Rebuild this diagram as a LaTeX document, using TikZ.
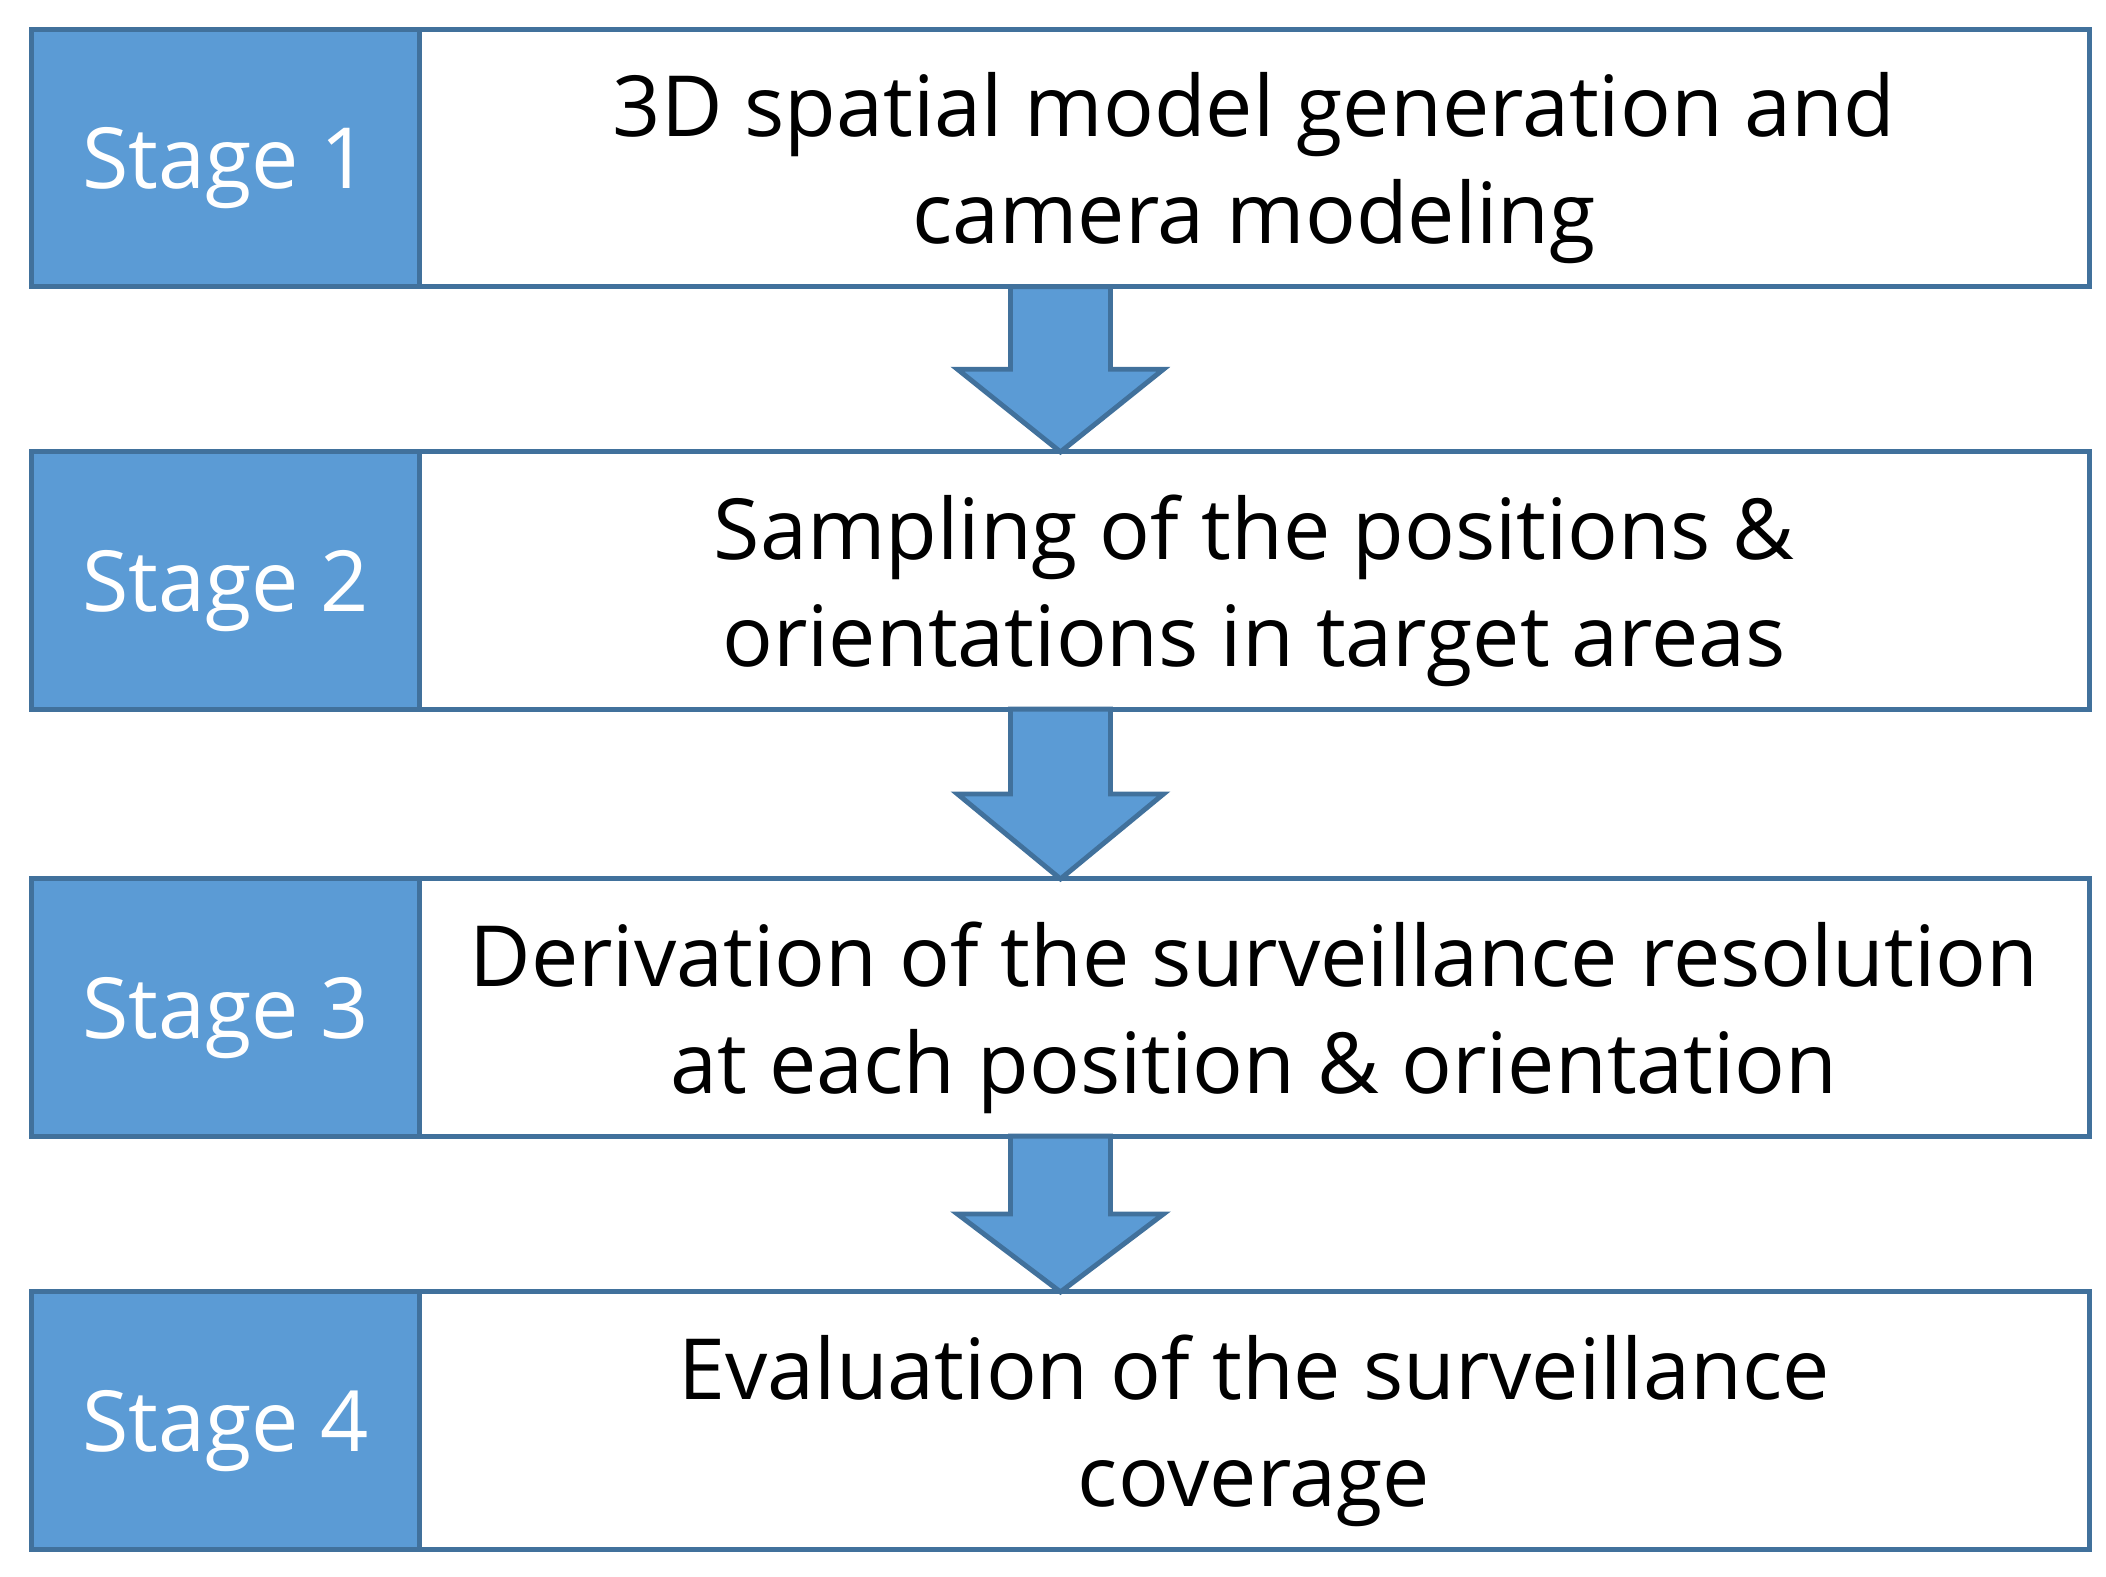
\documentclass[tikz,border=0pt]{standalone}
\usepackage{fontspec}
\setmainfont{Open Sans}
\usepackage{tikz}
\usetikzlibrary{calc}
\definecolor{stageblue}{HTML}{5B9BD5}
\definecolor{edgeblue}{HTML}{41719C}

\begin{document}
\begin{tikzpicture}[x=0.01cm,y=-0.01cm]
\tikzstyle{stage}=[rectangle, fill=stageblue, draw=edgeblue, line width=1.4pt, outer sep=0pt, minimum width=3.87cm, minimum height=2.57cm, text depth=0pt, text=white, font=\fontsize{24}{30.5}\selectfont]
\tikzstyle{desc}=[rectangle, fill=white, draw=edgeblue, line width=1.4pt, outer sep=0pt, minimum width=16.69cm, minimum height=2.57cm, text depth=0pt, anchor=west, align=center, font=\fontsize{24}{30.5}\selectfont]
\tikzstyle{flow}=[fill=stageblue, draw=edgeblue, line width=1.4pt, line join=miter]

\useasboundingbox (0,0) rectangle (2106,1577);

\node[stage](s1) at (225.5,158){Stage 1};
\node[stage](s2) at (225.5,580.5){Stage 2};
\node[stage](s3) at (225.5,1007.5){Stage 3};
\node[stage](s4) at (225.5,1420.5){Stage 4};
\node[desc](d1) at (s1.east){3D spatial model generation and\\camera modeling};
\node[desc](d2) at (s2.east){Sampling of the positions \&\\orientations in target areas};
\node[desc](d3) at (s3.east){Derivation of the surveillance resolution\\at each position \& orientation};
\node[desc](d4) at (s4.east){Evaluation of the surveillance\\coverage};

% block arrows between the rows
\foreach \a/\b in {1/2,2/3,3/4}{
  \coordinate (top) at ($(s\a.south west)!0.5!(d\a.south east)$);
  \coordinate (tip) at ($(s\b.north west)!0.5!(d\b.north east)$);
  \coordinate (mid) at ($(top)!0.5!(tip)$);
  \draw[flow] ($(top)+(-50,0)$) -- ($(top)+(50,0)$) -- ($(mid)+(50,0)$) -- ($(mid)+(103,0)$)
    -- (tip) -- ($(mid)+(-103,0)$) -- ($(mid)+(-50,0)$) -- cycle;
}
\end{tikzpicture}
\end{document}
